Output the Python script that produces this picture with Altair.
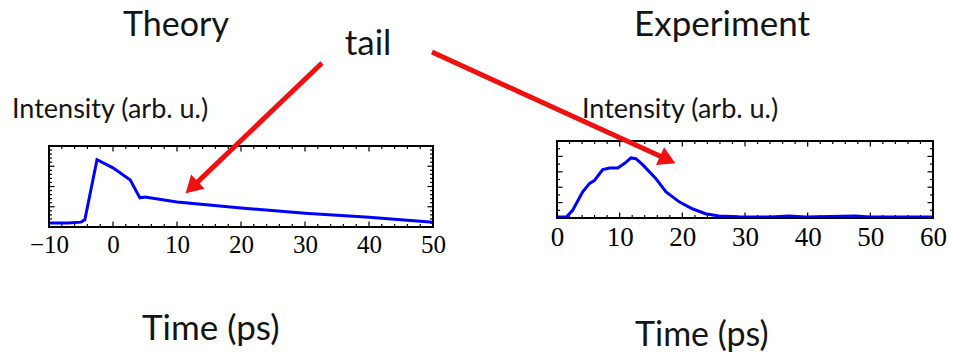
import altair as alt
import pandas as pd
import math

# ---------------- data ----------------
theory_t = [-10, -7, -5, -4.4, -2.5, 0, 2.7, 4.2, 5, 10, 20, 30, 40, 50]
theory_i = [0.05, 0.05, 0.06, 0.09, 0.83, 0.73, 0.58, 0.36, 0.37, 0.31, 0.235, 0.17, 0.12, 0.06]

exp_t = [0, 1.5, 2.5, 4.1, 5.2, 6, 7.3, 8.4, 9.7, 10.8, 11.8, 12.6, 13.7, 15.8, 17.4,
         19.5, 21.6, 23.7, 25.8, 29, 34, 37, 39.6, 47.6, 50, 60]
exp_i = [0.013, 0.013, 0.10, 0.34, 0.45, 0.49, 0.63, 0.65, 0.65, 0.71, 0.78, 0.77, 0.69,
         0.51, 0.34, 0.21, 0.12, 0.056, 0.026, 0.017, 0.013, 0.026, 0.013, 0.026, 0.013, 0.013]

theory_ticks = [-10, 0, 10, 20, 30, 40, 50]
exp_ticks = [0, 10, 20, 30, 40, 50, 60]

# panel placement (canvas pixels)
TH_X = [41, 425]
TH_Y = [219, 138]
EX_X = [549, 925]
EX_Y = [210, 133]
W = 939
H = 346

FONT = "Lato"
SERIF = "Liberation Serif"


def frame_ticks(xmin, xmax, xstep, xmajor, ystep, ymajor, xrng, yrng):
    rows = []
    px_x = (xrng[1] - xrng[0]) / (xmax - xmin)
    px_y = (yrng[0] - yrng[1]) / 1.0
    n = int(round((xmax - xmin) / xstep))
    for k in range(n + 1):
        t = xmin + k * xstep
        L = (5.5 if abs((t / xmajor) - round(t / xmajor)) < 1e-6 else 3.0) / px_y
        rows.append(dict(x=t, x2=t, y=1, y2=1 - L))
        rows.append(dict(x=t, x2=t, y=0, y2=L))
    m = int(round(1.0 / ystep))
    for k in range(m + 1):
        v = k * ystep
        L = (5.5 if abs((v / ymajor) - round(v / ymajor)) < 1e-6 else 3.0) / px_x
        rows.append(dict(x=xmin, x2=xmin + L, y=v, y2=v))
        rows.append(dict(x=xmax, x2=xmax - L, y=v, y2=v))
    return pd.DataFrame(rows)


def panel(t, i, dom, xr, yr, ticks, label_size, pad, tickdf):
    xs = alt.Scale(domain=dom, range=xr, nice=False, zero=False)
    ys = alt.Scale(domain=[0, 1], range=yr, nice=False, zero=False)
    df = pd.DataFrame({"t": t, "i": i})
    line = alt.Chart(df).mark_line(color="#0000FF", strokeWidth=3, clip=False).encode(
        x=alt.X("t:Q", scale=xs,
                axis=alt.Axis(values=ticks, title=None, domain=False, ticks=False, tickSize=0,
                              grid=False, labelFont=SERIF, labelFontSize=label_size,
                              labelColor="black", labelPadding=pad, orient="bottom",
                              offset=yr[0] - H, labelFlush=False, labelOverlap=False)),
        y=alt.Y("i:Q", scale=ys, axis=None),
    )
    frame = alt.Chart(pd.DataFrame({"a": [0]})).mark_rect(
        fillOpacity=0, stroke="black", strokeWidth=2).encode(
        x=alt.X(datum=dom[0], scale=xs, axis=None),
        x2=alt.X2(datum=dom[1]),
        y=alt.Y(datum=0, scale=ys, axis=None),
        y2=alt.Y2(datum=1),
    )
    tk = alt.Chart(tickdf).mark_rule(color="black", strokeWidth=1.2).encode(
        x=alt.X("x:Q", scale=xs, axis=None),
        x2="x2:Q",
        y=alt.Y("y:Q", scale=ys, axis=None),
        y2="y2:Q",
    )
    return [tk, line, frame]


th_ticks = frame_ticks(-10, 50, 2, 10, 0.05, 0.25, TH_X, TH_Y)
ex_ticks = frame_ticks(0, 60, 2, 10, 0.1, 0.2, EX_X, EX_Y)

layers = []
layers += panel(theory_t, theory_i, [-10, 50], TH_X, TH_Y, theory_ticks, 25, 5, th_ticks)
layers += panel(exp_t, exp_i, [0, 60], EX_X, EX_Y, exp_ticks, 27, 6, ex_ticks)

# ---------------- annotations ----------------
texts = [
    ("Theory", 168, 28, 34, "center"),
    ("Experiment", 714, 28, 35, "center"),
    ("tail", 360, 47, 35, "center"),
    ("Intensity (arb. u.)", 4, 110, 27, "left"),
    ("Intensity (arb. u.)", 574, 110, 27, "left"),
    ("Time (ps)", 134, 332, 35, "left"),
    ("Time (ps)", 627, 338, 34, "left"),
]
base = alt.Chart(pd.DataFrame({"a": [0]}))
for s, x, y, fs, al in texts:
    layers.append(base.mark_text(text=s, font=FONT, fontSize=fs, color="#141414",
                                 align=al, baseline="alphabetic").encode(
        x=alt.value(x), y=alt.value(y)))

arrows = [
    # start x, start y, tip x, tip y
    (314, 55, 178, 185),
    (424, 44, 667, 155),
]
for x0, y0, x1, y1 in arrows:
    dx, dy = x1 - x0, y1 - y0
    d = math.hypot(dx, dy)
    ux, uy = dx / d, dy / d
    hx, hy = x1 - ux * 8, y1 - uy * 8
    ex, ey = x1 - ux * 10, y1 - uy * 10
    ang = (math.degrees(math.atan2(dx, -dy)) + 360) % 360
    layers.append(base.mark_rule(color="#F01010", strokeWidth=5).encode(
        x=alt.value(x0), y=alt.value(y0), x2=alt.value(ex), y2=alt.value(ey)))
    layers.append(base.mark_point(shape="triangle-up", filled=True, color="#F01010",
                                  size=380, opacity=1).encode(
        x=alt.value(hx), y=alt.value(hy), angle=alt.value(ang)))

chart = alt.layer(*layers).resolve_scale(x="independent", y="independent").properties(
    width=W, height=H, autosize=alt.AutoSizeParams(type="none"), padding=0,
    background="white",
).configure_view(strokeWidth=0, stroke=None)

chart.save("out.html", embed_options={"renderer": "svg", "actions": False})
